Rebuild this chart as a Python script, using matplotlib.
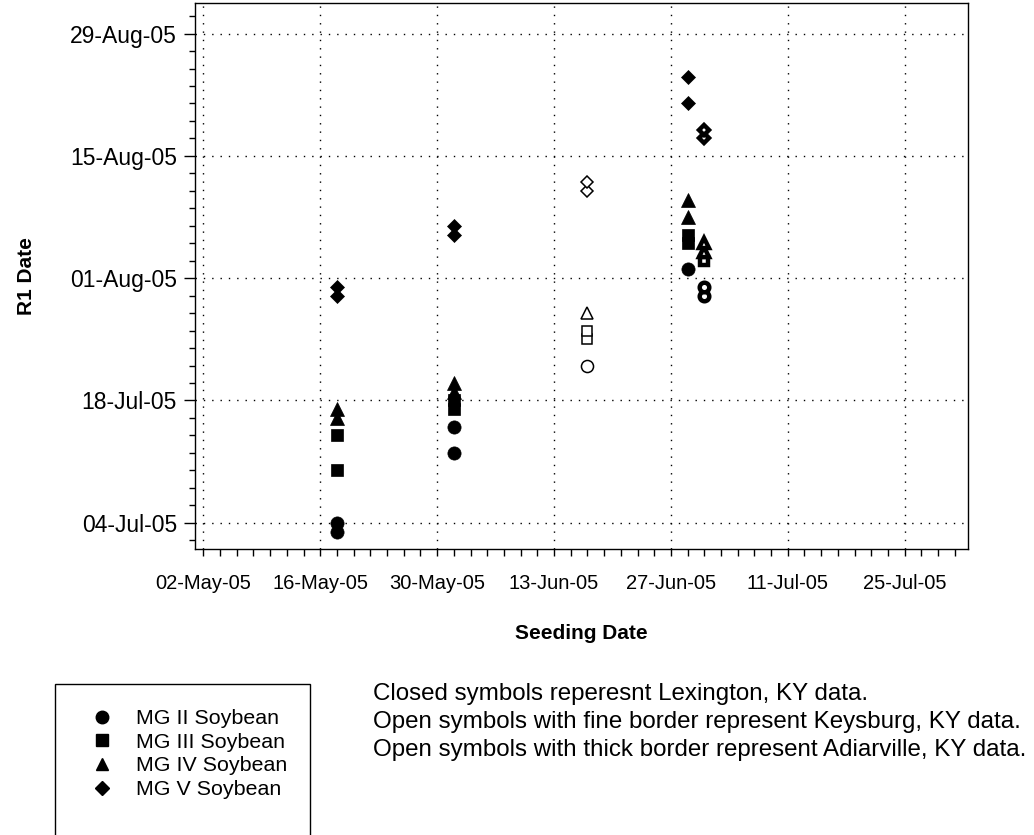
import matplotlib
matplotlib.use("Agg")
import matplotlib.pyplot as plt
import matplotlib.dates as mdates
from matplotlib.lines import Line2D
from matplotlib.patches import Rectangle
import pandas as pd

plt.rcParams['font.family'] = ['Liberation Sans', 'DejaVu Sans']

# Lexington, KY - closed symbols
lex_mg2_seed = ['2005-05-18', '2005-05-18', '2005-06-01', '2005-06-01', '2005-06-29']
lex_mg2_r1 = ['2005-07-04', '2005-07-03', '2005-07-12', '2005-07-15', '2005-08-02']
lex_seed = ['2005-05-18', '2005-05-18', '2005-06-01', '2005-06-01', '2005-06-29', '2005-06-29']
lex_mg3_r1 = ['2005-07-10', '2005-07-14', '2005-07-17', '2005-07-18', '2005-08-05', '2005-08-06']
lex_mg4_r1 = ['2005-07-16', '2005-07-17', '2005-07-19', '2005-07-20', '2005-08-08', '2005-08-10']
lex_mg5_r1 = ['2005-07-30', '2005-07-31', '2005-08-06', '2005-08-07', '2005-08-21', '2005-08-24']

# Keysburg, KY - open symbols, fine border
key_seed = '2005-06-17'
key_mg2_r1 = ['2005-07-22']
key_mg3_r1 = ['2005-07-25', '2005-07-26']
key_mg4_r1 = ['2005-07-28']
key_mg5_r1 = ['2005-08-11', '2005-08-12']

# Adairville, KY - open symbols, thick border
adi_seed = '2005-07-01'
adi_mg2_r1 = ['2005-07-30', '2005-07-31']
adi_mg3_r1 = ['2005-08-03']
adi_mg4_r1 = ['2005-08-04', '2005-08-05']
adi_mg5_r1 = ['2005-08-17', '2005-08-18']

group_labels = ['MG II Soybean', 'MG III Soybean', 'MG IV Soybean', 'MG V Soybean']
x_ticks = ['2005-05-02', '2005-05-16', '2005-05-30', '2005-06-13', '2005-06-27', '2005-07-11', '2005-07-25']
y_ticks = ['2005-07-04', '2005-07-18', '2005-08-01', '2005-08-15', '2005-08-29']

markers = ['o', 's', '^', 'D']
sizes = [9.5, 8.5, 9.5, 7.2]

fig = plt.figure(figsize=(10.34, 8.35), dpi=100)
ax = fig.add_axes([195 / 1034, 1 - 549 / 835, 773 / 1034, 546 / 835])

lex_r1 = [lex_mg2_r1, lex_mg3_r1, lex_mg4_r1, lex_mg5_r1]
lex_seeds = [lex_mg2_seed, lex_seed, lex_seed, lex_seed]
key_r1 = [key_mg2_r1, key_mg3_r1, key_mg4_r1, key_mg5_r1]
adi_r1 = [adi_mg2_r1, adi_mg3_r1, adi_mg4_r1, adi_mg5_r1]

for i in range(4):
    m, s = markers[i], sizes[i]
    ax.plot(pd.to_datetime(lex_seeds[i]), pd.to_datetime(lex_r1[i]), ls='none', marker=m,
            ms=s, mfc='black', mec='black', mew=0.5, zorder=3)
    ax.plot(pd.to_datetime([key_seed] * len(key_r1[i])), pd.to_datetime(key_r1[i]), ls='none',
            marker=m, ms=s - 0.8, mfc='white', mec='black', mew=1.1, zorder=3)
    ax.plot(pd.to_datetime([adi_seed] * len(adi_r1[i])), pd.to_datetime(adi_r1[i]), ls='none',
            marker=m, ms=s - 2.6, mfc='white', mec='black', mew=3.2, zorder=3)

ax.set_xlim(pd.Timestamp('2005-05-01'), pd.Timestamp('2005-08-01 14:00'))
ax.set_ylim(pd.Timestamp('2005-07-01'), pd.Timestamp('2005-09-01 12:00'))

ax.set_xticks(pd.to_datetime(x_ticks))
ax.set_xticks(pd.date_range('2005-05-02', '2005-08-01', freq='2D'), minor=True)
ax.set_yticks(pd.to_datetime(y_ticks))
ax.set_yticks(pd.date_range('2005-07-02', '2005-09-01', freq='2D'), minor=True)
ax.xaxis.set_major_formatter(mdates.DateFormatter('%d-%b-%y'))
ax.yaxis.set_major_formatter(mdates.DateFormatter('%d-%b-%y'))

ax.tick_params(axis='x', which='both', direction='out', length=5, width=1, pad=13, labelsize=14.5)
ax.tick_params(axis='y', which='major', direction='out', length=8, width=1, pad=5, labelsize=16.5)
ax.tick_params(axis='y', which='minor', direction='out', length=4, width=1)

ax.grid(True, which='major', color='black', linestyle=(0, (1, 5)), linewidth=1)
for sp in ax.spines.values():
    sp.set_linewidth(1)

ax.set_xlabel('Seeding Date', fontsize=15, fontweight='bold', labelpad=22)
ax.set_ylabel('R1 Date', fontsize=15, fontweight='bold')
ax.yaxis.set_label_coords((36 - 195) / 773, 0.5)

# legend
handles = [Line2D([], [], ls='none', marker=markers[i], ms=sizes[i] - 0.5, mfc='black', mec='black')
           for i in range(4)]
fig.legend(handles, group_labels, loc='upper left', bbox_to_anchor=(91 / 1034, 1 - 709 / 835),
           frameon=False, fontsize=15.4, handlelength=1.0, handletextpad=1.1, labelspacing=0.22,
           borderpad=0, borderaxespad=0)
fig.add_artist(Rectangle((55 / 1034, -0.05), 255 / 1034, 0.05 + 1 - 684 / 835,
                         transform=fig.transFigure, fill=False, lw=1, ec='black'))

notes = ['Closed symbols reperesnt Lexington, KY data.',
         'Open symbols with fine border represent Keysburg, KY data.',
         'Open symbols with thick border represent Adiarville, KY data.']
for k, line in enumerate(notes):
    fig.text(373 / 1034, 1 - (694 + 28 * k) / 835, line, fontsize=17.4, va='center', ha='left')

fig.savefig('out.png', dpi=100)
